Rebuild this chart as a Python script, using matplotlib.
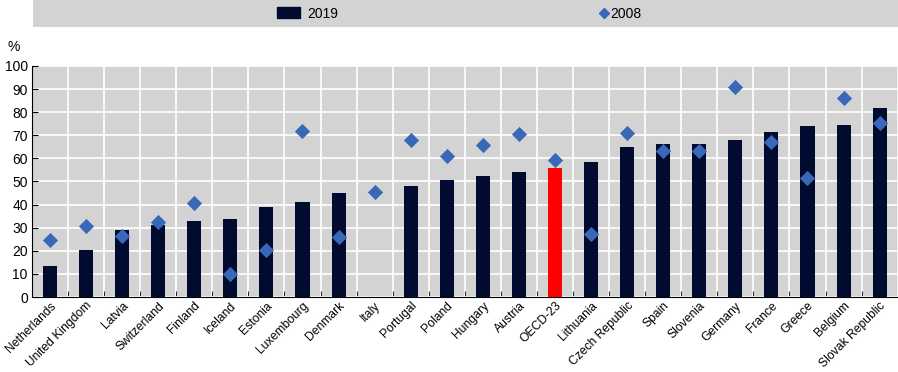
import numpy as np
import matplotlib.pyplot as plt
import matplotlib.transforms as mtrans
from matplotlib.lines import Line2D
from matplotlib.patches import Patch, Rectangle

# countries, sorted by 2019 value
countries = ["Netherlands", "United Kingdom", "Latvia", "Switzerland", "Finland",
             "Iceland", "Estonia", "Luxembourg", "Denmark", "Italy", "Portugal",
             "Poland", "Hungary", "Austria", "OECD-23", "Lithuania", "Czech Republic",
             "Spain", "Slovenia", "Germany", "France", "Greece", "Belgium",
             "Slovak Republic"]
v2019 = [13.5, 20.3, 29.1, 31.2, 32.9, 33.6, 39.1, 41.0, 44.9, np.nan, 48.2,
         50.6, 52.4, 54.0, 56.0, 58.6, 64.9, 66.1, 66.1, 68.0, 71.3, 73.9,
         74.6, 81.8]
v2008 = [24.7, 30.7, 26.4, 32.6, 40.7, 10.1, 20.5, 71.7, 26.0, 45.3, 67.8,
         60.9, 65.8, 70.4, 59.2, 27.4, 70.9, 63.2, 63.2, 90.7, 67.0, 51.6,
         86.1, 75.5]
yticks = list(range(0, 101, 10))

navy  = "#000b2f"
red   = "#ff0000"
blue  = "#3a68b8"
grey  = "#d3d3d3"

plt.rcParams["font.family"] = ["Liberation Sans", "DejaVu Sans"]
plt.rcParams["font.size"] = 10

fig = plt.figure(figsize = (8.98, 3.72), dpi = 100)
ax = fig.add_axes([0.0356, 0.2016, 0.964, 0.621])
ax.set_facecolor(grey)

x = np.arange(len(countries))
cols = [red if c == "OECD-23" else navy for c in countries]
ax.bar(x, v2019, width = 0.39, color = cols, zorder = 3)
ax.scatter(x, v2008, marker = "D", s = 60, color = blue, zorder = 4, linewidths = 0)

ax.set_xlim(-0.5, len(countries) - 0.5)
ax.set_ylim(0, 100)
ax.set_yticks(yticks)
ax.set_xticks(x)
ax.set_xticklabels(countries, rotation = 45, ha = "right", rotation_mode = "anchor", fontsize = 8.7)
shift = mtrans.ScaledTranslation(3 / 100, 0, fig.dpi_scale_trans)
for lab in ax.get_xticklabels():
	lab.set_transform(lab.get_transform() + shift)
ax.set_xticks(np.arange(len(countries) + 1) - 0.5, minor = True)
ax.tick_params(axis = "x", which = "major", length = 0, pad = 2)
ax.tick_params(axis = "x", which = "minor", direction = "in", length = 4, color = "black")
ax.tick_params(axis = "y", direction = "in", length = 4, pad = 3)

ax.grid(True, which = "minor", axis = "x", color = "white", lw = 1.2, zorder = 1)
ax.grid(True, which = "major", axis = "y", color = "white", lw = 1.2, zorder = 1)
for s in ["top", "right"]:
	ax.spines[s].set_visible(False)

fig.text(0.008, 0.862, "%", fontsize = 10)

# legend band
fig.patches.append(Rectangle((0.0367, 0.927), 0.964, 0.073, transform = fig.transFigure,
                             facecolor = grey, edgecolor = "none", zorder = 0))
leg1 = fig.legend([Patch(color = navy)], ["2019"], loc = "center left",
                  bbox_to_anchor = (277 / 898, 0.963), frameon = False, borderpad = 0,
                  borderaxespad = 0, handlelength = 1.65, handleheight = 0.85, handletextpad = 0.55)
leg2 = fig.legend([Line2D([], [], marker = "D", ls = "", color = blue, markersize = 5)], ["2008"],
                  loc = "center left", bbox_to_anchor = (599 / 898, 0.963), frameon = False,
                  borderpad = 0, borderaxespad = 0, handlelength = 0.7, handletextpad = 0.1)

fig.savefig("out.png", dpi = 100)
